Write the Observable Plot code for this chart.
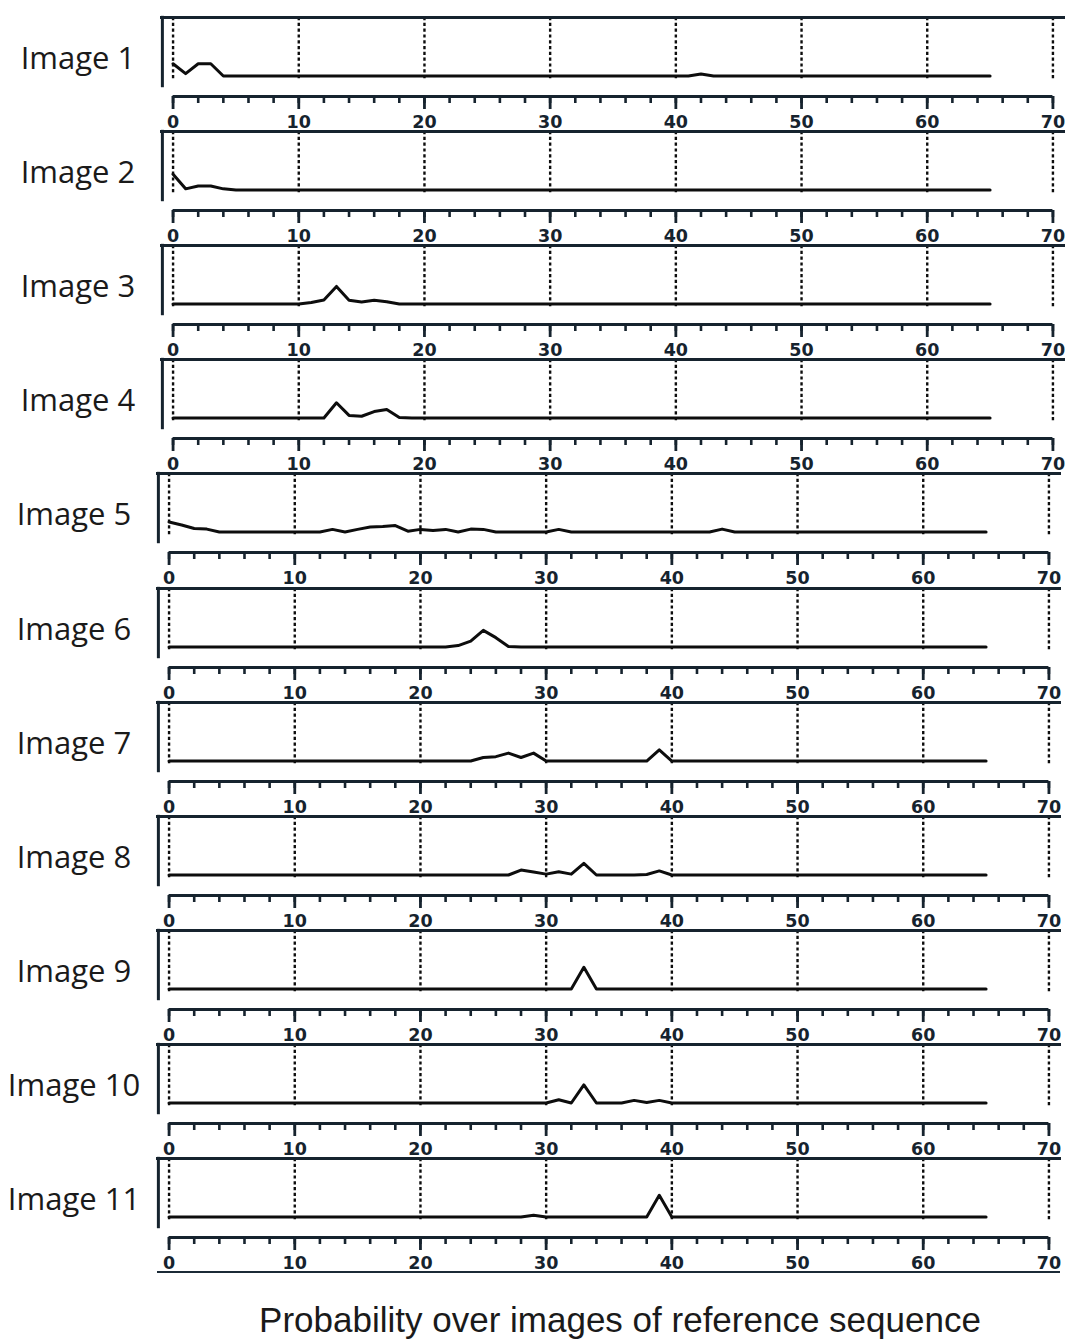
<!DOCTYPE html>
<html>
<head>
<meta charset="utf-8">
<script src="https://cdn.jsdelivr.net/npm/d3@7"></script>
<script src="https://cdn.jsdelivr.net/npm/@observablehq/plot@0.6"></script>
<style>
  html, body { margin: 0; padding: 0; background: #fff; }
  body { width: 1068px; height: 1340px; position: relative; overflow: hidden; }
  .label { position: absolute; left: 0; width: 156px; text-align: center; font-family: "Open Sans", sans-serif; font-size: 31px; color: #1a1a1a; line-height: 1; }
  .plot { position: absolute; left: 150px; }
  #bottomline { position: absolute; left: 157px; width: 903px; height: 2px; background: #1b2a36; }
  #title { position: absolute; left: 160px; width: 920px; text-align: center; font-family: "Liberation Sans", Arial, sans-serif; font-size: 35px; color: #1a1a1a; }
</style>
</head>
<body>
<script>
// Reference sequence index (image number in reference sequence), 0..65
const refIndex = d3.range(0, 66);

// Probability over reference images for each query image
const image1 = [
  0.21,0.04,0.21,0.21,0,0,0,0,0,0,0,
  0,0,0,0,0,0,0,0,0,0,0,
  0,0,0,0,0,0,0,0,0,0,0,
  0,0,0,0,0,0,0,0,0,0.035,0,
  0,0,0,0,0,0,0,0,0,0,0,
  0,0,0,0,0,0,0,0,0,0,0];
const image2 = [
  0.27,0.02,0.07,0.07,0.02,0,0,0,0,0,0,
  0,0,0,0,0,0,0,0,0,0,0,
  0,0,0,0,0,0,0,0,0,0,0,
  0,0,0,0,0,0,0,0,0,0,0,
  0,0,0,0,0,0,0,0,0,0,0,
  0,0,0,0,0,0,0,0,0,0,0];
const image3 = [
  0,0,0,0,0,0,0,0,0,0,0,
  0.025,0.07,0.30,0.065,0.035,0.065,0.04,0,0,0,0,
  0,0,0,0,0,0,0,0,0,0,0,
  0,0,0,0,0,0,0,0,0,0,0,
  0,0,0,0,0,0,0,0,0,0,0,
  0,0,0,0,0,0,0,0,0,0,0];
const image4 = [
  0,0,0,0,0,0,0,0,0,0,0,
  0,0,0.26,0.045,0.03,0.11,0.145,0.01,0,0,0,
  0,0,0,0,0,0,0,0,0,0,0,
  0,0,0,0,0,0,0,0,0,0,0,
  0,0,0,0,0,0,0,0,0,0,0,
  0,0,0,0,0,0,0,0,0,0,0];
const image5 = [
  0.17,0.12,0.06,0.05,0,0,0,0,0,0,0,
  0,0,0.045,0,0.045,0.085,0.095,0.11,0.015,0.045,0.025,
  0.045,0,0.05,0.045,0,0,0,0,0,0.045,0,
  0,0,0,0,0,0,0,0,0,0,0,
  0.05,0,0,0,0,0,0,0,0,0,0,
  0,0,0,0,0,0,0,0,0,0,0];
const image6 = [
  0,0,0,0,0,0,0,0,0,0,0,
  0,0,0,0,0,0,0,0,0,0,0,
  0,0.025,0.10,0.285,0.16,0.01,0,0,0,0,0,
  0,0,0,0,0,0,0,0,0,0,0,
  0,0,0,0,0,0,0,0,0,0,0,
  0,0,0,0,0,0,0,0,0,0,0];
const image7 = [
  0,0,0,0,0,0,0,0,0,0,0,
  0,0,0,0,0,0,0,0,0,0,0,
  0,0,0,0.06,0.075,0.135,0.06,0.135,0,0,0,
  0,0,0,0,0,0,0.19,0,0,0,0,
  0,0,0,0,0,0,0,0,0,0,0,
  0,0,0,0,0,0,0,0,0,0,0];
const image8 = [
  0,0,0,0,0,0,0,0,0,0,0,
  0,0,0,0,0,0,0,0,0,0,0,
  0,0,0,0,0,0,0.085,0.05,0.015,0.055,0.015,
  0.20,0,0,0,0,0.01,0.07,0,0,0,0,
  0,0,0,0,0,0,0,0,0,0,0,
  0,0,0,0,0,0,0,0,0,0,0];
const image9 = [
  0,0,0,0,0,0,0,0,0,0,0,
  0,0,0,0,0,0,0,0,0,0,0,
  0,0,0,0,0,0,0,0,0,0,0,
  0.37,0,0,0,0,0,0,0,0,0,0,
  0,0,0,0,0,0,0,0,0,0,0,
  0,0,0,0,0,0,0,0,0,0,0];
const image10 = [
  0,0,0,0,0,0,0,0,0,0,0,
  0,0,0,0,0,0,0,0,0,0,0,
  0,0,0,0,0,0,0,0,0,0.055,0,
  0.31,0,0,0,0.045,0.01,0.045,0,0,0,0,
  0,0,0,0,0,0,0,0,0,0,0,
  0,0,0,0,0,0,0,0,0,0,0];
const image11 = [
  0,0,0,0,0,0,0,0,0,0,0,
  0,0,0,0,0,0,0,0,0,0,0,
  0,0,0,0,0,0,0,0.03,0,0,0,
  0,0,0,0,0,0,0.37,0,0,0,0,
  0,0,0,0,0,0,0,0,0,0,0,
  0,0,0,0,0,0,0,0,0,0,0];

const imageLabels = ["Image 1","Image 2","Image 3","Image 4","Image 5","Image 6",
                     "Image 7","Image 8","Image 9","Image 10","Image 11"];
const seriesList = [image1,image2,image3,image4,image5,image6,image7,image8,image9,image10,image11];

const majorTicks = [0,10,20,30,40,50,60,70];
const minorTicks = d3.range(0, 71, 2);
const titleText = "Probability over images of reference sequence";

// ---- layout ----
const PANEL_TOP = 17, PANEL_STEP = 114.1;
const MT = 4, SVG_H = 124, AXIS_Y = 79;   // axis line distance below top border
const SVG_W = 918;
const lineColor = "#0d0d0d";
const frameColor = "#16232e";

seriesList.forEach((vals, i) => {
  const y0 = PANEL_TOP + i * PANEL_STEP;
  const shift = i >= 4 ? -4 : 0;
  const data = refIndex.map((x, k) => ({x, p: vals[k]}));

  const lab = document.createElement("div");
  lab.className = "label";
  lab.textContent = imageLabels[i];
  lab.style.top = (y0 + 25) + "px";
  lab.style.left = (shift) + "px";
  document.body.appendChild(lab);

  const chart = Plot.plot({
    width: SVG_W,
    height: SVG_H,
    marginLeft: 10,
    marginRight: 3,
    marginTop: MT,
    marginBottom: SVG_H - MT - AXIS_Y,
    x: {domain: [-1, 71], axis: null},
    y: {domain: [-0.35, 1], axis: null},
    style: {background: "transparent", overflow: "visible", fontFamily: "'DejaVu Sans', sans-serif"},
    marks: [
      // dashed vertical gridlines
      Plot.ruleX(majorTicks, {y1: 1, y2: -0.05, stroke: lineColor, strokeWidth: 2.4, strokeDasharray: "3.2,2.6"}),
      // top border
      Plot.ruleY([1], {stroke: frameColor, strokeWidth: 3}),
      // left border
      Plot.ruleX([-0.85], {y1: 1.02, y2: -0.2, stroke: frameColor, strokeWidth: 3}),
      // data line
      Plot.line(data, {x: "x", y: "p", stroke: lineColor, strokeWidth: 3, strokeLinejoin: "round"}),
      // axis bracket line
      Plot.ruleY([-0.35], {x1: d3.min(majorTicks), x2: d3.max(majorTicks), stroke: frameColor, strokeWidth: 2.8}),
      Plot.axisX({ticks: minorTicks, anchor: "bottom", label: null, tickSize: 7, tickFormat: () => "", stroke: frameColor, strokeWidth: 2.6}),
      Plot.axisX({ticks: majorTicks, anchor: "bottom", label: null, tickSize: 13, tickPadding: 6, stroke: frameColor, strokeWidth: 2.8,
                  fill: "#16232e", fontSize: 17.5, fontWeight: "bold", tickFormat: d => String(d)})
    ]
  });
  chart.classList.add("plot");
  chart.style.top = (y0 - MT) + "px";
  chart.style.left = (150 + shift) + "px";
  document.body.appendChild(chart);
});

const bl = document.createElement("div");
bl.id = "bottomline";
bl.style.top = (PANEL_TOP + 11 * PANEL_STEP - 1) + "px";
document.body.appendChild(bl);

const t = document.createElement("div");
t.id = "title";
t.textContent = titleText;
t.style.top = "1300px";
document.body.appendChild(t);
</script>
</body>
</html>
